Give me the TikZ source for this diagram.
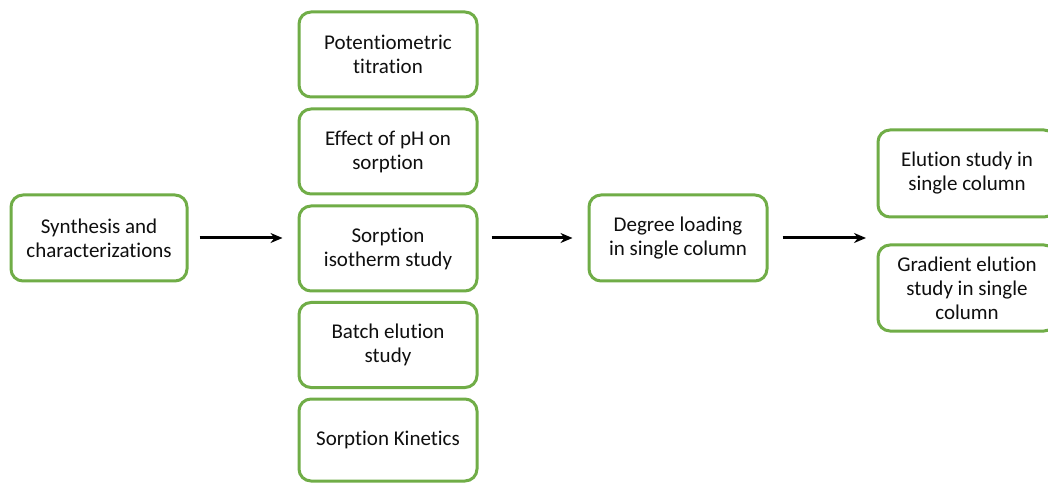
\documentclass[tikz,border=0pt]{standalone}
\usepackage{fontspec}
\setmainfont{Carlito}[Ligatures=NoCommon]
\usetikzlibrary{arrows.meta}
\definecolor{boxgreen}{RGB}{112,173,71}
\definecolor{txt}{RGB}{15,15,15}
\tikzset{
  stepbox/.style={draw=boxgreen, line width=3pt, rounded corners=12pt, fill=white,
    minimum width=178pt, minimum height=86pt, align=center, text=txt,
    font=\fontsize{21}{24}\selectfont, inner sep=2pt},
  flow/.style={-{Stealth[length=12pt,width=10pt]}, line width=3pt, black}
}
\begin{document}
\begin{tikzpicture}[x=1pt,y=1pt]
\useasboundingbox[fill=white] (0,0) rectangle (1048,482);
% left
\node[stepbox, minimum width=176pt] (syn) at (99,244) {Synthesis and\\characterizations};
% column
\node[stepbox, minimum height=85pt] (pot) at (388,427.5) {Potentiometric\\titration};
\node[stepbox, minimum height=85pt] (ph) at (388,330.5) {Effect of pH on\\sorption};
\node[stepbox, minimum height=85pt] (iso) at (388,233.5) {Sorption\\isotherm study};
\node[stepbox, minimum height=85pt] (batch) at (388,137) {Batch elution\\study};
\node[stepbox, minimum height=82pt] (kin) at (388,42) {Sorption Kinetics};
% middle
\node[stepbox] (deg) at (678,244) {Degree loading\\in single column};
% right
\node[stepbox, minimum height=87pt] (elu) at (967,308.5) {Elution study in\\single column};
\node[stepbox, minimum height=86pt] (grad) at (967,194) {Gradient elution\\study in single\\column};
\coordinate (rin) at (878,244);
% arrows
\draw[flow, shorten <=11pt, shorten >=15pt] (syn.east |- 0,244) -- (iso.west |- 0,244);
\draw[flow, shorten <=13pt, shorten >=15pt] (iso.east |- 0,244) -- (deg.west);
\draw[flow, shorten <=14pt, shorten >=12pt] (deg.east) -- (rin);
\end{tikzpicture}
\end{document}
